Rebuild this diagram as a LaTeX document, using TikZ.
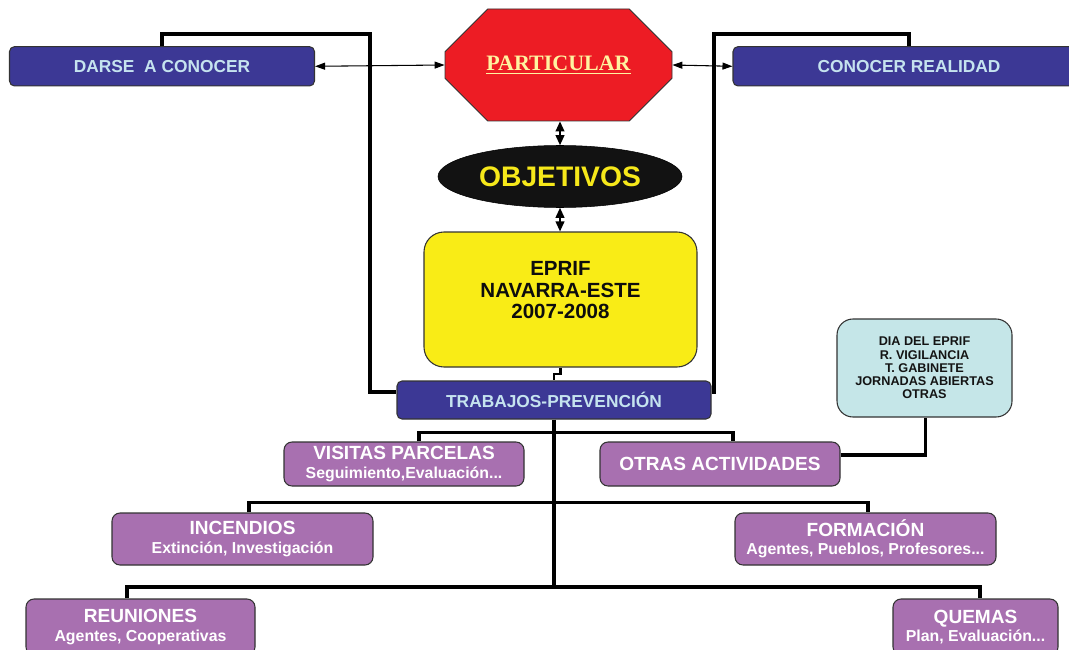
\documentclass[tikz,border=0pt]{standalone}
\usepackage{fontspec}
\setmainfont{Liberation Sans}
\newfontfamily\serifbold{Liberation Serif}
\usetikzlibrary{shapes.geometric,shapes.misc,arrows.meta}
\definecolor{boxblue}{HTML}{3C3895}
\definecolor{textblue}{HTML}{C5E3EF}
\definecolor{boxpurple}{HTML}{A870B0}
\definecolor{boxyellow}{HTML}{F9EC16}
\definecolor{boxred}{HTML}{ED1C24}
\definecolor{boxcyan}{HTML}{C5E6E8}
\definecolor{parttext}{HTML}{FFF3A0}
\definecolor{objtext}{HTML}{F6E81A}
\definecolor{bordergray}{HTML}{333333}
\newcommand{\subt}[1]{{\fontsize{11.9}{13}\selectfont #1}}
\begin{document}
\begin{tikzpicture}[x=0.75pt,y=-0.75pt,
  bluebox/.style={draw=bordergray,line width=0.8pt,fill=boxblue,rounded corners=3.75pt,text=textblue,
    font=\fontsize{13}{15}\selectfont\bfseries,minimum height=29.5pt,inner sep=0pt},
  purplebox/.style={draw=bordergray,line width=0.8pt,fill=boxpurple,rounded corners=6pt,text=white,
    align=center,inner sep=0pt,font=\fontsize{14.3}{13.6}\selectfont\bfseries},
  link/.style={line width=2.4pt,draw=black,line join=miter},
  arr/.style={{Triangle[length=7.5pt,width=5.25pt]}-{Triangle[length=7.5pt,width=5.25pt]},line width=0.8pt},
  varr/.style={{Triangle[length=7.5pt,width=6.5pt]}-{Triangle[length=7.5pt,width=6.5pt]},line width=1.3pt}
]
\useasboundingbox (0,0) rectangle (1069,649);
\clip (0,0) rectangle (1069,649);

% top row
\node[bluebox,minimum width=228.75pt] (darse) at (162,66.3) {DARSE\ \ A CONOCER};
\node[bluebox,minimum width=264pt] (conocer) at (909,66.3) {CONOCER REALIDAD};
\node[chamfered rectangle,chamfered rectangle xsep=28.5pt,chamfered rectangle ysep=25.5pt,
  minimum width=170.25pt,minimum height=84pt,inner sep=0pt,fill=boxred,draw=bordergray,line width=0.6pt,
  text=parttext,font=\serifbold\bfseries\fontsize{16.5}{18}\selectfont] (particular) at (558.5,65) {\underline{PARTICULAR}};

% centre column
\node[ellipse,fill=black!93,draw=black,minimum width=183pt,minimum height=46.5pt,inner sep=0pt,
  text=objtext,font=\fontsize{21.2}{24}\selectfont\bfseries] (obj) at (560,176.5) {OBJETIVOS};
\node[draw=bordergray,line width=0.8pt,fill=boxyellow,rounded corners=15pt,minimum width=204.75pt,
  minimum height=101.25pt,inner sep=0pt] (eprif) at (560.5,299.5) {};
\node[align=center,text=black!95,font=\fontsize{15.4}{16.1}\selectfont\bfseries,inner sep=0pt]
  (eprift) at (560.5,290.5) {EPRIF\\NAVARRA-ESTE\\2007-2008};
\node[bluebox,minimum width=235.5pt,minimum height=28.5pt] (trab) at (554,400) {TRABAJOS-PREVENCI\'ON};

% activities
\node[purplebox,minimum width=180pt,minimum height=33pt] (visitas) at (404,464) {VISITAS PARCELAS\\\subt{Seguimiento,Evaluaci\'on...}};
\node[purplebox,minimum width=180pt,minimum height=33pt] (otras) at (720,464) {OTRAS ACTIVIDADES};
\node[draw=bordergray,line width=0.8pt,fill=boxcyan,rounded corners=12pt,minimum width=131.25pt,
  minimum height=73.5pt,inner sep=0pt,align=center,text=black!92,
  font=\fontsize{9.5}{9.95}\selectfont\bfseries] (dia) at (924.5,368)
  {DIA DEL EPRIF\\R. VIGILANCIA\\T. GABINETE\\JORNADAS ABIERTAS\\OTRAS};
\node[purplebox,minimum width=195.75pt,minimum height=39pt] (incendios) at (242.5,539) {INCENDIOS\\\subt{Extinci\'on, Investigaci\'on}};
\node[purplebox,minimum width=195.75pt,minimum height=39pt] (formacion) at (865.5,539) {FORMACI\'ON\\\subt{Agentes, Pueblos, Profesores...}};
\node[purplebox,minimum width=171.75pt,minimum height=42pt] (reuniones) at (140.5,627) {REUNIONES\\\subt{Agentes, Cooperativas}};
\node[purplebox,minimum width=123.75pt,minimum height=42pt] (quemas) at (975.5,627) {QUEMAS\\\subt{Plan, Evaluaci\'on...}};

% arrows
\draw[arr] (darse.east) -- (particular.west);
\draw[arr] (particular.east) -- (conocer.west);
\draw[varr] (obj.north |- particular.south) -- (obj.north);
\draw[varr] (obj.south) -- (obj.south |- eprif.north);

% loops to TRABAJOS
\coordinate (ltop) at (370,34);
\coordinate (rtop) at (714,34);
\draw[link] (darse.north) |- (ltop) |- ([yshift=6pt]trab.west);
\draw[link] (conocer.north) |- (rtop) |- ([yshift=6pt]trab.east);
\coordinate (stepc) at (554,374);
\draw[link,line width=2pt] (eprif.south) |- (stepc) -- (trab.north);

% tree
\coordinate (trunk) at (554,587);
\draw[link] (trab.south) -- (trunk);
\coordinate (b1l) at (419,432.7);
\coordinate (b1r) at (733,432.7);
\draw[link] (b1l |- visitas.north) -- (b1l) -- (b1r) -- (b1r |- otras.north);
\coordinate (b2l) at (249,502.3);
\coordinate (b2r) at (868,502.3);
\draw[link] (b2l |- incendios.north) -- (b2l) -- (b2r) -- (b2r |- formacion.north);
\coordinate (b3l) at (127,587);
\coordinate (b3r) at (980,587);
\draw[link] (b3l |- reuniones.north) -- (b3l) -- (b3r) -- (b3r |- quemas.north);
\draw[link] ([yshift=6.75pt]otras.east) -| ([xshift=1pt]dia.south);
\end{tikzpicture}
\end{document}
